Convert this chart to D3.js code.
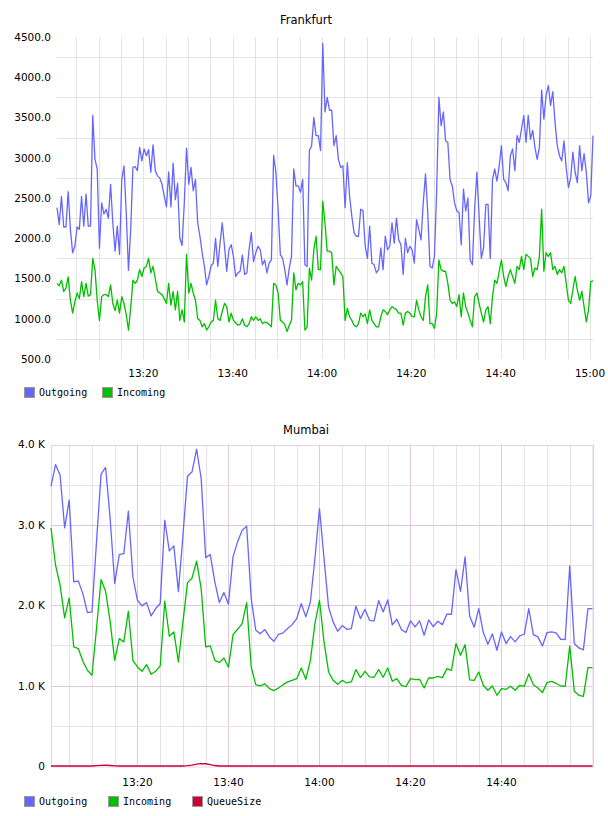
<!DOCTYPE html>
<html>
<head>
<meta charset="utf-8">
<script src="https://cdn.jsdelivr.net/npm/d3@7"></script>
<style>
  body { margin: 0; background: #fff; }
  svg text { font-family: "DejaVu Sans", sans-serif; font-size: 10.5px; fill: #000; }
  svg .legend text { font-family: "DejaVu Sans Mono", monospace; font-size: 10px; }
</style>
</head>
<body>
<svg id="chart" width="608" height="816"></svg>
<script>
// Frankfurt: one sample every 30 s starting 13:00:40
const frankfurtStart = '13:00:40';
const frankfurtOut = [
  2380, 2170, 2520, 2140, 2140, 2580, 2110, 1820, 1900, 2140,
  2110, 2520, 2150, 2550, 2150, 2150, 3525, 2980, 2860, 1875,
  2440, 2300, 2360, 2250, 2670, 2190, 1840, 2150, 1800, 2730,
  2900, 2320, 1600, 2110, 2880, 2890, 2840, 3130, 2960, 3110,
  3025, 3100, 2820, 3160, 2840, 2775, 2750, 2670, 2525, 2390,
  2825, 2390, 2930, 2480, 2680, 2000, 1910, 2440, 3120, 2670,
  2880, 2590, 2730, 2190, 2025, 1820, 1650, 1420, 1525, 1660,
  1690, 2000, 1650, 1940, 2190, 1900, 1590, 1860, 1920, 1775,
  1525, 1570, 1590, 1790, 1550, 1570, 1860, 2070, 1710, 1820,
  1900, 1860, 1670, 1730, 1570, 1690, 1730, 3030, 2820, 2360,
  1800, 1750, 1610, 1420, 1630, 1775, 2860, 2650, 2650, 2570,
  2730, 1670, 1650, 3090, 3150, 3500, 3275, 3275, 3090, 4420,
  3570, 3750, 3590, 3590, 3150, 3275, 2980, 2880, 2900, 2380,
  2940, 2525, 2275, 2070, 2025, 2025, 2360, 2340, 1900, 1750,
  2150, 1690, 1670, 1570, 1610, 1880, 1610, 2025, 1860, 1900,
  2190, 1940, 2250, 1980, 1920, 1550, 2000, 1820, 1900, 1860,
  1690, 2230, 2110, 1980, 2440, 2800, 2320, 1650, 1630, 1775,
  2590, 3750, 3400, 3570, 3210, 3190, 2730, 2650, 2440, 2340,
  2320, 1920, 2610, 2340, 2500, 1730, 1670, 2360, 2820, 2275,
  1750, 1880, 2420, 2420, 1750, 2730, 2860, 2710, 2900, 3150,
  2730, 2690, 2590, 3025, 3110, 2840, 3275, 3190, 3360, 3525,
  3190, 3525, 3230, 3340, 3130, 2980, 3130, 3840, 3480, 3775,
  3900, 3650, 3820, 3440, 3150, 3025, 2960, 3210, 2880, 2630,
  2750, 3070, 2820, 2690, 3150, 2840, 3050, 2820, 2440, 2525, 3275
];
const frankfurtIn = [
  1440, 1410, 1480, 1340, 1380, 1520, 1230, 1070, 1210, 1320,
  1250, 1460, 1275, 1440, 1280, 1300, 1750, 1610, 1230, 980,
  1275, 1300, 1300, 1275, 1420, 1190, 1100, 1230, 1070, 1275,
  1190, 1050, 860, 1130, 1480, 1440, 1480, 1610, 1525, 1630,
  1650, 1750, 1570, 1650, 1500, 1340, 1320, 1300, 1250, 1190,
  1440, 1170, 1340, 1110, 1340, 980, 1110, 960, 1800, 1320,
  1440, 1320, 1230, 1000, 980, 900, 940, 860, 900, 960,
  980, 1230, 1000, 980, 1090, 1190, 1150, 960, 1070, 980,
  950, 920, 930, 1000, 920, 900, 940, 1025, 980, 1025,
  980, 1000, 940, 960, 950, 930, 900, 1440, 1420, 1320,
  980, 960, 930, 840, 920, 980, 1570, 1360, 1440, 1420,
  1460, 860, 900, 1630, 1480, 1860, 2025, 1610, 1610, 2460,
  2190, 1840, 1840, 1820, 1420, 1650, 1610, 1570, 1525, 980,
  1130, 1025, 980, 920, 900, 940, 1070, 1025, 1060, 940,
  1110, 980, 940, 900, 900, 1025, 1110, 1090, 1050, 1110,
  1150, 1130, 1110, 1070, 1070, 920, 1070, 1090, 1070, 1030,
  1025, 1230, 1110, 1025, 980, 1275, 1420, 940, 940, 880,
  1070, 1730, 1610, 1590, 1590, 1440, 1230, 1190, 1210, 1150,
  1300, 1025, 1320, 1150, 1070, 980, 900, 1275, 1320, 1190,
  1070, 960, 1110, 1150, 940, 1275, 1480, 1440, 1590, 1730,
  1525, 1400, 1525, 1610, 1525, 1440, 1650, 1610, 1775, 1610,
  1800, 1775, 1750, 1525, 1630, 1610, 1775, 2360, 1590, 1820,
  1775, 1820, 1610, 1650, 1550, 1610, 1570, 1650, 1440, 1230,
  1190, 1360, 1525, 1360, 1230, 1340, 1150, 960, 1110, 1460, 1470
];
const frankfurtYTicks = [500, 1000, 1500, 2000, 2500, 3000, 3500, 4000, 4500];

// Mumbai: one sample per minute starting 13:01
const mumbaiStart = '13:01:00';
const mumbaiOut = [
  3481, 3751, 3618, 2963, 3307, 2290, 2303, 2145, 1909, 1917,
  2788, 3631, 3714, 3079, 2270, 2631, 2643, 3170, 2353, 2062,
  1992, 2033, 1867, 1959, 2021, 3058, 2676, 2739, 2170, 2871,
  3606, 3660, 3942, 3577, 2593, 2631, 2290, 2033, 2158, 2012,
  2602, 2788, 2934, 2983, 2083, 1689, 1647, 1697, 1606, 1552,
  1639, 1656, 1710, 1759, 1834, 2021, 1855, 2041, 2581, 3203,
  2581, 1979, 1793, 1676, 1747, 1701, 1710, 1988, 1834, 1950,
  1813, 1805, 2058, 1917, 2066, 1755, 1826, 1697, 1660, 1805,
  1730, 1805, 1627, 1817, 1734, 1801, 1759, 1888, 1888, 2444,
  2174, 2602, 1867, 1726, 1959, 1660, 1515, 1643, 1440, 1668,
  1523, 1610, 1544, 1618, 1639, 1959, 1635, 1606, 1494, 1660,
  1668, 1656, 1577, 1573, 2490, 1523, 1469, 1444, 1959, 1959
];
const mumbaiIn = [
  2963, 2498, 2249, 1842, 2091, 1481, 1461, 1303, 1191, 1129,
  1710, 2320, 2174, 1793, 1315, 1585, 1544, 1925, 1315, 1232,
  1178, 1261, 1141, 1178, 1245, 2050, 1614, 1668, 1295, 1793,
  2282, 2340, 2548, 2207, 1481, 1494, 1315, 1286, 1344, 1228,
  1635, 1701, 1772, 2033, 1232, 1012, 996, 1021, 963, 938,
  971, 1012, 1046, 1066, 1087, 1220, 1079, 1315, 1772, 2062,
  1544, 1170, 1066, 1017, 1066, 1033, 1046, 1199, 1100, 1178,
  1108, 1104, 1199, 1104, 1220, 1054, 1087, 1004, 988, 1087,
  1075, 1079, 971, 1095, 1095, 1116, 1100, 1212, 1191, 1523,
  1378, 1510, 1071, 1066, 1170, 1004, 942, 996, 880, 963,
  954, 992, 942, 1004, 992, 1145, 1012, 971, 913, 1037,
  1054, 1029, 996, 992, 1494, 929, 880, 867, 1224, 1224
];
const mumbaiQueue = [
  0, 0, 0, 0, 0, 0, 0, 0, 0, 0,
  4, 9, 10, 6, 2, 0, 0, 0, 0, 0,
  0, 0, 0, 0, 0, 0, 0, 0, 0, 0,
  4, 12, 24, 30, 28, 18, 6, 0, 0, 0,
  0, 0, 0, 0, 0, 0, 0, 0, 0, 0,
  0, 0, 0, 0, 0, 0, 0, 0, 0, 0,
  0, 0, 0, 0, 0, 0, 0, 0, 0, 0,
  0, 0, 0, 0, 0, 0, 0, 0, 0, 0,
  0, 0, 0, 0, 0, 0, 0, 0, 0, 0,
  0, 0, 0, 0, 0, 0, 0, 0, 0, 0,
  0, 0, 0, 0, 0, 0, 0, 0, 0, 0,
  0, 0, 0, 0, 0, 0, 0, 0, 0, 0
];
const mumbaiYTicks = [0, 1000, 2000, 3000, 4000];

const COLORS = { Outgoing: '#6666ff', Incoming: '#00c000', QueueSize: '#cc0033' };

const svg = d3.select('#chart');
const parseT = d3.timeParse('%H:%M:%S');
const fmtT = d3.timeFormat('%H:%M');

function sampleTimes(start, stepSec, n) {
  const t0 = parseT(start);
  return d3.range(n).map(i => new Date(+t0 + i * stepSec * 1000));
}

function drawPanel(cfg) {
  const g = svg.append('g');
  const times = sampleTimes(cfg.start, cfg.step, cfg.series[0].values.length);
  const x = d3.scaleTime().domain(d3.extent(times)).range([cfg.l, cfg.r]);
  const y = d3.scaleLinear().domain(cfg.yDomain).range([cfg.b, cfg.t]);
  const [d0, d1] = x.domain();

  // vertical grid every 5 minutes, heavier on the labelled 20-minute marks
  const vLines = d3.timeMinute.every(5).range(d0, new Date(+d1 + 1)).filter(t => t > d0);
  g.append('g').selectAll('line').data(vLines).join('line')
    .attr('x1', d => Math.round(x(d)) + 0.5).attr('x2', d => Math.round(x(d)) + 0.5)
    .attr('y1', cfg.t).attr('y2', cfg.b)
    .attr('stroke', d => d.getMinutes() % 20 === 0 ? cfg.gridMajor : cfg.grid).attr('stroke-width', 1);

  // horizontal grid
  g.append('g').selectAll('line').data(cfg.hGrid).join('line')
    .attr('x1', cfg.l).attr('x2', cfg.r)
    .attr('y1', d => Math.round(y(d)) + 0.5).attr('y2', d => Math.round(y(d)) + 0.5)
    .attr('stroke', d => cfg.yTicks.includes(d) ? cfg.gridMajor : cfg.grid).attr('stroke-width', 1);

  if (cfg.border) {
    g.append('rect').attr('x', cfg.l + 0.5).attr('y', Math.round(cfg.t) + 0.5)
      .attr('width', cfg.r - cfg.l).attr('height', cfg.b - cfg.t)
      .attr('fill', 'none').attr('stroke', cfg.border);
  }

  // series
  const line = d3.line().x((d, i) => x(times[i])).y(d => y(d));
  cfg.series.forEach(s => {
    g.append('path').attr('d', line(s.values)).attr('fill', 'none')
      .attr('stroke', COLORS[s.name]).attr('stroke-width', 1.3).attr('stroke-linejoin', 'round');
  });

  // y labels
  const yAxis = d3.axisLeft(y).tickValues(cfg.yTicks).tickSize(0).tickPadding(0).tickFormat(cfg.yFmt);
  g.append('g').attr('transform', `translate(${cfg.yLabelX},0)`).call(yAxis)
    .call(a => a.select('.domain').remove())
    .selectAll('text').attr('fill', '#000').style('font-family', '"DejaVu Sans", sans-serif').style('font-size', '10.5px');

  // x labels
  const xTicks = d3.timeMinute.every(20).range(d0, new Date(+d1 + 1)).filter(t => t > d0 && cfg.showTime(t));
  g.append('g').selectAll('text').data(xTicks).join('text')
    .attr('x', d => x(d)).attr('y', cfg.xLabelY).attr('text-anchor', 'middle').text(fmtT);

  // title
  g.append('text').attr('x', 306).attr('y', cfg.titleY).attr('text-anchor', 'middle')
    .style('font-size', '11.5px').text(cfg.title);

  // legend
  const lg = g.append('g').attr('class', 'legend');
  cfg.series.forEach((s, i) => {
    const lx = 24 + i * cfg.legendGap;
    lg.append('rect').attr('x', lx + 0.5).attr('y', cfg.legendY + 0.5).attr('width', 10).attr('height', 10)
      .attr('fill', COLORS[s.name]).attr('stroke', '#999');
    lg.append('text').attr('x', lx + 15).attr('y', cfg.legendY + 9).text(s.name);
  });
}

drawPanel({
  title: 'Frankfurt', titleY: 24,
  start: frankfurtStart, step: 30,
  series: [{ name: 'Outgoing', values: frankfurtOut }, { name: 'Incoming', values: frankfurtIn }],
  l: 57, r: 593, t: 37, b: 359,
  yDomain: [500, 4500], yTicks: frankfurtYTicks, yFmt: d3.format('.1f'), yLabelX: 51,
  hGrid: d3.range(750, 4500, 500),
  grid: '#e4e4e4', gridMajor: '#e4e4e4', border: null,
  xLabelY: 377, showTime: () => true,
  legendY: 387, legendGap: 78
});

drawPanel({
  title: 'Mumbai', titleY: 434,
  start: mumbaiStart, step: 60,
  series: [{ name: 'Outgoing', values: mumbaiOut }, { name: 'Incoming', values: mumbaiIn }, { name: 'QueueSize', values: mumbaiQueue }],
  l: 51, r: 592.5, t: 444.5, b: 766,
  yDomain: [0, 4000], yTicks: mumbaiYTicks, yFmt: v => v === 0 ? '0' : (v / 1000).toFixed(1) + ' K', yLabelX: 45,
  hGrid: d3.range(500, 4000, 500),
  grid: '#e9e1e9', gridMajor: '#e0c8e0', border: '#e6d0e6',
  xLabelY: 786, showTime: t => !(t.getHours() === 15),
  legendY: 796, legendGap: 84
});
</script>
</body>
</html>
